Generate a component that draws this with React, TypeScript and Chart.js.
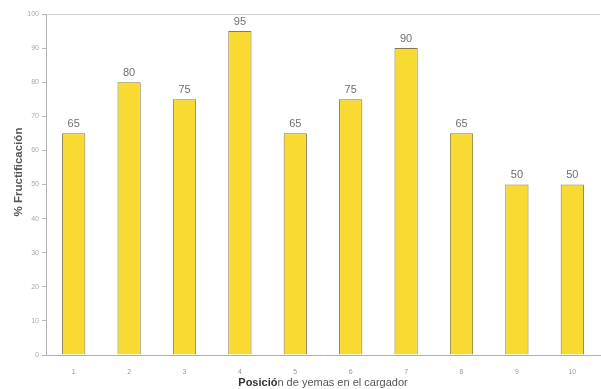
import React, { useEffect, useRef } from "react";
import { Chart, registerables } from "chart.js";

Chart.register(...registerables);

const categories = ["1", "2", "3", "4", "5", "6", "7", "8", "9", "10"];
const fructificacion = [65, 80, 75, 95, 65, 75, 90, 65, 50, 50];
const yTicks = [0, 10, 20, 30, 40, 50, 60, 70, 80, 90, 100];
const xTitleBold = "Posició";
const xTitleRest = "n de yemas en el cargador";
const yTitle = "% Fructificación";

const FONT = "'Liberation Sans', Arial, sans-serif";

const labelPlugin = {
  id: "valueLabels",
  afterDatasetsDraw(chart: any) {
    const ctx = chart.ctx;
    const meta = chart.getDatasetMeta(0);
    ctx.save();
    ctx.font = `11px ${FONT}`;
    ctx.fillStyle = "#6f6f6f";
    ctx.textAlign = "center";
    ctx.textBaseline = "bottom";
    meta.data.forEach((bar: any, i: number) => {
      ctx.fillText(String(fructificacion[i]), bar.x, bar.y - 4);
    });
    const a = chart.chartArea;
    ctx.strokeStyle = "#d0d0d0";
    ctx.lineWidth = 1;
    ctx.beginPath();
    ctx.moveTo(a.left, a.top + 0.5);
    ctx.lineTo(a.right, a.top + 0.5);
    ctx.stroke();

    // x-axis title (mixed weight as in the scan)
    ctx.textBaseline = "middle";
    ctx.textAlign = "left";
    ctx.font = `bold 11px ${FONT}`;
    const wb = ctx.measureText(xTitleBold).width;
    ctx.font = `11px ${FONT}`;
    const wr = ctx.measureText(xTitleRest).width;
    const x0 = 323 - (wb + wr) / 2;
    ctx.font = `bold 11px ${FONT}`;
    ctx.fillStyle = "#333";
    ctx.fillText(xTitleBold, x0, 383);
    ctx.font = `11px ${FONT}`;
    ctx.fillStyle = "#555";
    ctx.fillText(xTitleRest, x0 + wb, 383);

    // y-axis title
    ctx.translate(19, 172);
    ctx.rotate(-Math.PI / 2);
    ctx.font = `bold 11.5px ${FONT}`;
    ctx.fillStyle = "#555";
    ctx.textAlign = "center";
    ctx.textBaseline = "middle";
    ctx.fillText(yTitle, 0, 0);
    ctx.restore();
  },
};

export default function App() {
  const ref = useRef<HTMLCanvasElement | null>(null);
  useEffect(() => {
    document.body.style.margin = "0";
    const chart = new Chart(ref.current as HTMLCanvasElement, {
      type: "bar",
      data: {
        labels: categories,
        datasets: [
          {
            data: fructificacion,
            backgroundColor: "#F8DA33",
            borderColor: "#857a48",
            borderWidth: 1,
            barPercentage: 0.84,
            categoryPercentage: 0.5,
          },
        ],
      },
      options: {
        responsive: false,
        animation: false,
        layout: { padding: { top: 14, right: 1, left: 0, bottom: 0 } },
        plugins: { legend: { display: false }, tooltip: { enabled: false } },
        scales: {
          x: {
            grid: { display: false },
            border: { display: true, color: "#b0b0b0" },
            ticks: {
              color: "#9a9a9a",
              font: { size: 7, family: FONT },
              padding: 5,
            },
            title: { display: false },
            afterFit: (s: any) => {
              s.height = 34;
            },
          },
          y: {
            min: 0,
            max: 100,
            afterBuildTicks: (s: any) => {
              s.ticks = yTicks.map((v) => ({ value: v }));
            },
            grid: { drawOnChartArea: false, color: "#b8b8b8", tickLength: 4 },
            border: { display: true, color: "#b0b0b0" },
            ticks: {
              color: "#a8a8a8",
              font: { size: 7, family: FONT },
              padding: 3,
            },
            title: { display: false },
            afterFit: (s: any) => {
              s.width = 46;
            },
          },
        },
      },
      plugins: [labelPlugin],
    });
    return () => chart.destroy();
  }, []);
  return (
    <div style={{ width: 601, height: 389, background: "#fff" }}>
      <canvas ref={ref} width={601} height={389} style={{ display: "block" }} />
    </div>
  );
}
